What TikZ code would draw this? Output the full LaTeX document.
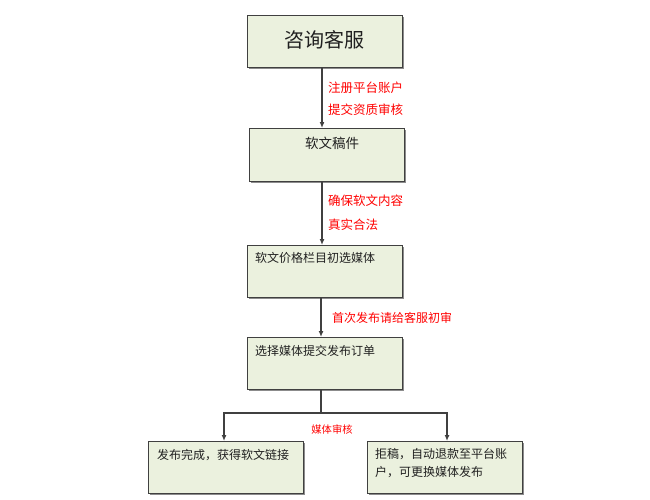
\documentclass[tikz,border=0pt]{standalone}
\usepackage{fontspec}
\setmainfont{Noto Sans CJK SC}
\usetikzlibrary{arrows.meta,shadows}
\definecolor{boxfill}{HTML}{EBF1DE}
\definecolor{boxline}{HTML}{404040}
\definecolor{txt}{HTML}{202020}
\tikzset{
  box/.style={draw=boxline, line width=1.2pt, fill=boxfill, anchor=north west,
    minimum width=155pt, minimum height=52pt, inner sep=0pt,
    drop shadow={shadow xshift=1pt, shadow yshift=-1pt, fill=black!45, opacity=1}},
  arr/.style={draw=boxline, line width=1.2pt, -{Latex[length=6pt,width=5pt]}},
  ln/.style={draw=boxline, line width=1.2pt},
  btxt/.style={text=txt, font=\fontsize{12}{18}\selectfont, inner sep=0pt},
  rtxt/.style={text=red, font=\fontsize{12.5}{18}\selectfont, inner sep=0pt, anchor=west}
}
\begin{document}
\begin{tikzpicture}[x=1pt,y=-1pt]
\useasboundingbox (0,0) rectangle (650,499);
% boxes
\node[box] (b1) at (247,15) {};
\node[box, minimum height=53pt] (b2) at (249,128) {};
\node[box] (b3) at (247,245) {};
\node[box] (b4) at (247,337) {};
\node[box] (b5) at (148,441) {};
\node[box] (b6) at (367,441) {};
% box texts
\node[btxt, font=\fontsize{20}{24}\selectfont] (t1) at (324,40) {咨询客服};
\node[btxt, font=\fontsize{13.5}{18}\selectfont] (t2) at (332,143) {软文稿件};
\node[btxt, anchor=west] (t3) at (255,258) {软文价格栏目初选媒体};
\node[btxt, anchor=west] (t4) at (255,351) {选择媒体提交发布订单};
\node[btxt, anchor=west] (t5) at (157,455) {发布完成，获得软文链接};
\node[btxt, anchor=north west, align=left] (t6) at (375,448.5) {拒稿，自动退款至平台账\\户，可更换媒体发布};
% connectors
\coordinate (xa) at (322,0);
\coordinate (xb) at (321,0);
\coordinate (xl) at (224,0);
\coordinate (xr) at (447,0);
\coordinate (ys) at (0,413);
\draw[arr] (b1.south -| xa) -- (b2.north -| xa);
\draw[arr] (b2.south -| xa) -- (b3.north -| xa);
\draw[arr] (b3.south -| xb) -- (b4.north -| xb);
\draw[ln] (b4.south -| xb) -- (xb |- ys) coordinate (split);
\draw[arr] (split) -- (xl |- ys) -- (b5.north -| xl);
\draw[arr] (split) -- (xr |- ys) -- (b6.north -| xr);
% red labels
\node[rtxt] (l1) at (328,88) {注册平台账户};
\node[rtxt] (l2) at (328,110) {提交资质审核};
\node[rtxt] (l3) at (328,201) {确保软文内容};
\node[rtxt] (l4) at (328,225) {真实合法};
\node[rtxt, font=\fontsize{12}{18}\selectfont] (l5) at (332,318) {首次发布请给客服初审};
\node[rtxt, anchor=center, font=\fontsize{10.3}{12}\selectfont] (l6) at (332,430) {媒体审核};
\end{tikzpicture}
\end{document}
